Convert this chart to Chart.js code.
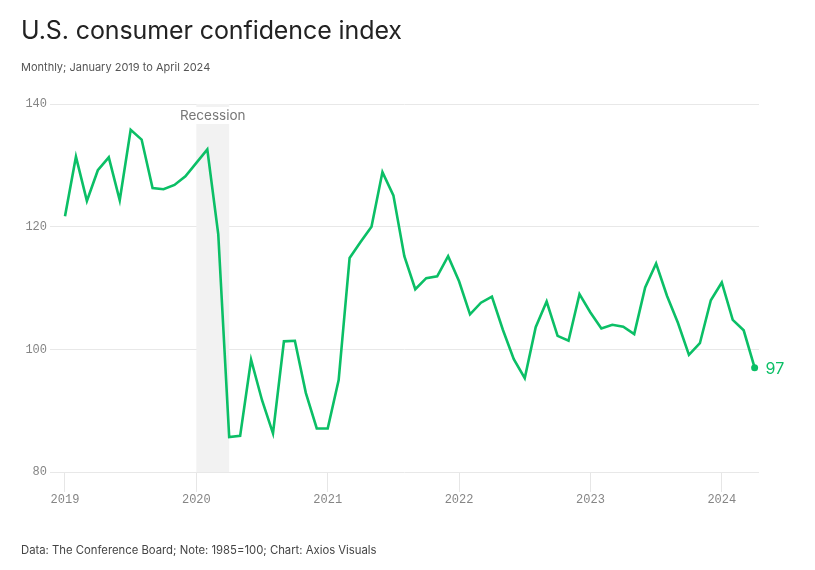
<!DOCTYPE html>
<html>
<head>
<meta charset="utf-8">
<script src="https://cdn.jsdelivr.net/npm/chart.js@4/dist/chart.umd.min.js"></script>
<style>
  html, body { margin: 0; padding: 0; background: #fff; }
  body { width: 815px; height: 570px; position: relative; overflow: hidden; font-family: Inter, "Noto Sans", sans-serif; }
  #title { position: absolute; left: 21px; top: 15px; font-size: 25px; color: #222; font-weight: 400; letter-spacing: -0.1px; white-space: nowrap; }
  #subtitle { position: absolute; left: 21px; top: 60px; font-size: 11px; color: #555; white-space: nowrap; }
  #footer { position: absolute; left: 21px; top: 543px; font-size: 11.3px; color: #444; white-space: nowrap; }
  #wrap { position: absolute; left: 0; top: 0; width: 815px; height: 570px; }
</style>
</head>
<body>
<div id="wrap"><canvas id="c" width="815" height="570"></canvas></div>
<div id="title">U.S. consumer confidence index</div>
<div id="subtitle">Monthly; January 2019 to April 2024</div>
<div id="footer">Data: The Conference Board; Note: 1985=100; Chart: Axios Visuals</div>
<script>
const months = [
  "2019-01","2019-02","2019-03","2019-04","2019-05","2019-06","2019-07","2019-08","2019-09","2019-10","2019-11","2019-12",
  "2020-01","2020-02","2020-03","2020-04","2020-05","2020-06","2020-07","2020-08","2020-09","2020-10","2020-11","2020-12",
  "2021-01","2021-02","2021-03","2021-04","2021-05","2021-06","2021-07","2021-08","2021-09","2021-10","2021-11","2021-12",
  "2022-01","2022-02","2022-03","2022-04","2022-05","2022-06","2022-07","2022-08","2022-09","2022-10","2022-11","2022-12",
  "2023-01","2023-02","2023-03","2023-04","2023-05","2023-06","2023-07","2023-08","2023-09","2023-10","2023-11","2023-12",
  "2024-01","2024-02","2024-03","2024-04"
];
const confidence = [
  121.7, 131.4, 124.2, 129.2, 131.3, 124.3, 135.8, 134.2, 126.3, 126.1, 126.8, 128.2,
  130.4, 132.6, 118.8, 85.7, 85.9, 98.3, 91.7, 86.3, 101.3, 101.4, 92.9, 87.1,
  87.1, 95.0, 114.9, 117.5, 120.0, 128.9, 125.1, 115.2, 109.8, 111.6, 111.9, 115.2,
  111.1, 105.7, 107.6, 108.6, 103.2, 98.4, 95.3, 103.6, 107.8, 102.2, 101.4, 109.0,
  106.0, 103.4, 104.0, 103.7, 102.5, 110.1, 114.0, 108.7, 104.3, 99.1, 101.0, 108.0,
  110.9, 104.8, 103.1, 97.0
];
const xTickLabels = ["2019", "2020", "2021", "2022", "2023", "2024"];
const yTickValues = [80, 100, 120, 140];
const recession = { start: "2020-01", end: "2020-04", label: "Recession" };
const endLabel = "97";

const GREEN = "#0bbf66";
const lastIdx = confidence.length - 1;
const points = confidence.map((v, i) => ({ x: i, y: v }));
const xTickPositions = xTickLabels.map(y => months.indexOf(y + "-01"));

const recessionPlugin = {
  id: "recession",
  beforeDatasetsDraw(chart) {
    const { ctx, chartArea, scales } = chart;
    const x0 = scales.x.getPixelForValue(months.indexOf(recession.start));
    const x1 = scales.x.getPixelForValue(months.indexOf(recession.end));
    ctx.save();
    ctx.fillStyle = "#f2f2f2";
    ctx.fillRect(x0, chartArea.top, x1 - x0, chartArea.bottom - chartArea.top);
    ctx.font = "13.5px Inter, 'Noto Sans', sans-serif";
    const cx = (x0 + x1) / 2;
    const w = ctx.measureText(recession.label).width;
    ctx.fillStyle = "#fff";
    ctx.fillRect(cx - w / 2 - 2, chartArea.top + 3, w + 4, 17);
    ctx.fillStyle = "#777";
    ctx.textAlign = "center";
    ctx.textBaseline = "middle";
    ctx.fillText(recession.label, cx, chartArea.top + 12);
    ctx.restore();
  },
  afterDatasetsDraw(chart) {
    const { ctx, scales } = chart;
    const x = scales.x.getPixelForValue(lastIdx);
    const y = scales.y.getPixelForValue(confidence[lastIdx]);
    ctx.save();
    ctx.fillStyle = GREEN;
    ctx.font = "16px Inter, 'Noto Sans', sans-serif";
    ctx.textAlign = "left";
    ctx.textBaseline = "middle";
    ctx.fillText(endLabel, x + 11, y + 1);
    ctx.restore();
  }
};

new Chart(document.getElementById("c"), {
  type: "line",
  data: {
    datasets: [{
      data: points,
      borderColor: GREEN,
      backgroundColor: GREEN,
      borderWidth: 2.6,
      tension: 0,
      pointRadius: ctx => ctx.dataIndex === lastIdx ? 3.5 : 0,
      pointHoverRadius: 0,
      pointBorderWidth: 0,
      borderJoinStyle: "miter"
    }]
  },
  options: {
    responsive: false,
    animation: false,
    events: [],
    layout: { padding: { top: 104, left: 0, right: 56, bottom: 58 } },
    plugins: { legend: { display: false }, tooltip: { enabled: false } },
    scales: {
      x: {
        type: "linear",
        min: -1.37,
        max: 63.4,
        afterBuildTicks(scale) { scale.ticks = xTickPositions.map(v => ({ value: v })); },
        afterFit(scale) { scale.height = 40; },
        ticks: {
          callback: (v) => xTickLabels[xTickPositions.indexOf(v)],
          font: { family: "'Liberation Mono', 'DejaVu Sans Mono', monospace", size: 12 },
          color: "#858585",
          padding: 1,
          maxRotation: 0,
          autoSkip: false
        },
        grid: { drawOnChartArea: false, drawTicks: true, tickLength: 20, color: "#e6e6e6", lineWidth: 1 },
        border: { display: false }
      },
      y: {
        min: 80,
        max: 140,
        afterBuildTicks(scale) { scale.ticks = yTickValues.map(v => ({ value: v })); },
        afterFit(scale) { scale.width = 50; },
        ticks: {
          font: { family: "'Liberation Mono', 'DejaVu Sans Mono', monospace", size: 12 },
          color: "#858585",
          padding: 3
        },
        grid: { drawTicks: false, color: "#e8e8e8", lineWidth: 1 },
        border: { display: false }
      }
    }
  },
  plugins: [recessionPlugin]
});
</script>
</body>
</html>
